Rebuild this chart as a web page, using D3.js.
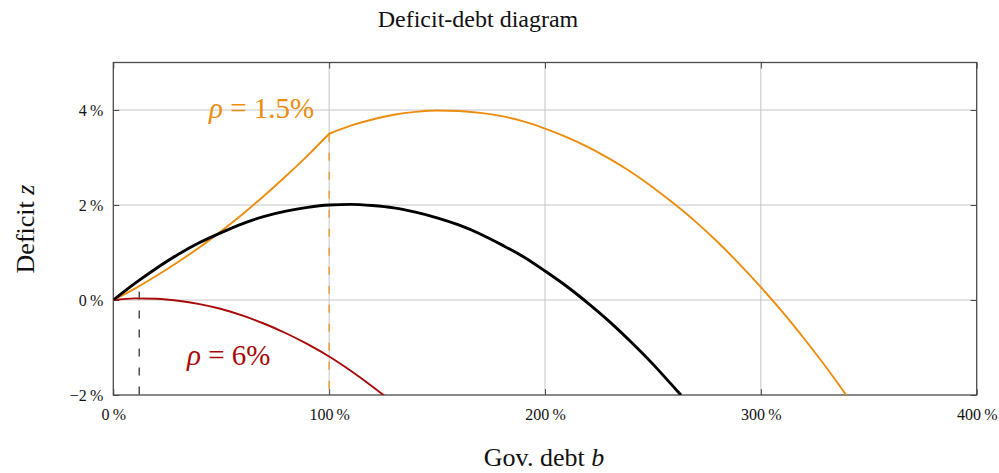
<!DOCTYPE html>
<html>
<head>
<meta charset="utf-8">
<script src="https://cdn.jsdelivr.net/npm/d3@7"></script>
<style>
  html, body { margin: 0; padding: 0; background: #fff; }
  svg { display: block; }
  text { font-family: "Liberation Serif", "DejaVu Serif", serif; fill: #111; }
</style>
</head>
<body>
<svg id="chart" width="999" height="473"></svg>
<script>
// Debt levels b (% of GDP) and deficits z (% of GDP)
const debtBase = [0, 10, 20, 30, 40, 50, 60, 70, 80, 90, 100, 110, 120, 130, 140, 150,
                  160, 170, 180, 190, 200, 210, 220, 230, 240, 250, 260, 263];
const deficitBase = [0, 0.35, 0.67, 0.96, 1.21, 1.42, 1.61, 1.76, 1.87, 1.95, 2.0, 2.014, 1.99,
                     1.94, 1.85, 1.73, 1.58, 1.39, 1.16, 0.91, 0.61, 0.29, -0.07, -0.46,
                     -0.89, -1.35, -1.85, -2.0];

// rho = 1.5 %: rises to the kink at b = 100 %, then bends over
const debtLowRhoA = [0, 10, 20, 30, 40, 50, 60, 70, 80, 90, 100];
const deficitLowRhoA = [0, 0.24, 0.51, 0.80, 1.11, 1.45, 1.81, 2.20, 2.61, 3.04, 3.5];
const debtLowRhoB = [100, 110, 120, 130, 140, 150, 160, 170, 180, 190, 200, 210, 220, 230,
                     240, 250, 260, 270, 280, 290, 300, 310, 320, 330, 340];
const deficitLowRhoB = [3.5, 3.67, 3.80, 3.90, 3.96, 3.99, 3.98, 3.94, 3.87, 3.76, 3.61, 3.43,
                        3.22, 2.97, 2.69, 2.37, 2.02, 1.64, 1.22, 0.76, 0.27, -0.25, -0.81,
                        -1.40, -2.03];

// rho = 6 %
const debtHighRho = [0, 10, 20, 30, 40, 50, 60, 70, 80, 90, 100, 110, 120, 126];
const deficitHighRho = [0, 0.034, 0.026, -0.015, -0.087, -0.19, -0.33, -0.50, -0.70, -0.93,
                        -1.19, -1.49, -1.82, -2.03];

// Axis ticks
const xTicks = [0, 100, 200, 300, 400];
const yTicks = [-2, 0, 2, 4];
const xGrid = [100, 200, 300];
const yGrid = [0, 2, 4];

// Reference markers: kink of the rho = 1.5 % curve and debt level under the rho = 6 % peak
const kinkDebt = 100, kinkDeficit = 3.5;
const peakDebt = 12, peakMarkTop = 0.18;

const orange = "#ee8c0e";
const darkRed = "#a80808";

const svg = d3.select("#chart");
const plotLeft = 113.3, plotRight = 976.7, plotTop = 62.5, plotBottom = 395;

const x = d3.scaleLinear().domain([0, 400]).range([plotLeft, plotRight]);
const y = d3.scaleLinear().domain([-2, 5]).range([plotBottom, plotTop]);

const pct = d => (d < 0 ? "\u2212" + Math.abs(d) : d) + "\u2009%";

svg.append("defs").append("clipPath").attr("id", "plotClip")
  .append("rect").attr("x", plotLeft).attr("y", plotTop)
  .attr("width", plotRight - plotLeft).attr("height", plotBottom - plotTop);

// Grid lines
const grid = svg.append("g").attr("stroke", "#c4c4c4").attr("stroke-width", 1);
grid.selectAll("line.gx").data(xGrid).join("line").attr("class", "gx")
  .attr("x1", d => x(d)).attr("x2", d => x(d))
  .attr("y1", plotTop).attr("y2", plotBottom);
grid.selectAll("line.gy").data(yGrid).join("line").attr("class", "gy")
  .attr("x1", plotLeft).attr("x2", plotRight)
  .attr("y1", d => y(d)).attr("y2", d => y(d));

// Axes with inward ticks
const tickLen = 6;
const axisColor = "#4a4a4a";
const xAxis = svg.append("g").attr("transform", `translate(0,${plotBottom})`)
  .call(d3.axisBottom(x).tickValues(xTicks).tickSize(-tickLen).tickPadding(tickLen + 8).tickFormat(pct));
const xAxisTop = svg.append("g").attr("transform", `translate(0,${plotTop})`)
  .call(d3.axisTop(x).tickValues(xTicks).tickSize(-tickLen).tickFormat(""));
const yAxis = svg.append("g").attr("transform", `translate(${plotLeft},0)`)
  .call(d3.axisLeft(y).tickValues(yTicks).tickSize(-tickLen).tickPadding(tickLen + 4).tickFormat(pct));
const yAxisRight = svg.append("g").attr("transform", `translate(${plotRight},0)`)
  .call(d3.axisRight(y).tickValues(yTicks).tickSize(-tickLen).tickFormat(""));

[xAxis, xAxisTop, yAxis, yAxisRight].forEach(g => {
  g.select(".domain").remove();
  g.selectAll(".tick line").attr("stroke", axisColor).attr("stroke-width", 1);
  g.selectAll(".tick text").attr("fill", "#111")
    .style("font-family", "'Liberation Serif', serif").style("font-size", "16px");
});

// Frame
svg.append("rect").attr("x", plotLeft).attr("y", plotTop)
  .attr("width", plotRight - plotLeft).attr("height", plotBottom - plotTop)
  .attr("fill", "none").attr("stroke", axisColor).attr("stroke-width", 1.3);

const plot = svg.append("g").attr("clip-path", "url(#plotClip)");

// Dashed reference lines
plot.append("line")
  .attr("x1", x(kinkDebt)).attr("x2", x(kinkDebt))
  .attr("y1", y(kinkDeficit)).attr("y2", y(-2))
  .attr("stroke", orange).attr("stroke-width", 1.2).attr("stroke-dasharray", "8,11");
plot.append("line")
  .attr("x1", x(peakDebt)).attr("x2", x(peakDebt))
  .attr("y1", y(peakMarkTop)).attr("y2", y(-2))
  .attr("stroke", "#222").attr("stroke-width", 1.2).attr("stroke-dasharray", "8,11");

const line = d3.line().x(d => x(d[0])).y(d => y(d[1])).curve(d3.curveMonotoneX);
const zip = (a, b) => a.map((v, i) => [v, b[i]]);

plot.append("path").attr("d", line(zip(debtHighRho, deficitHighRho)))
  .attr("fill", "none").attr("stroke", darkRed).attr("stroke-width", 1.9);

plot.append("path")
  .attr("d", line(zip(debtLowRhoA, deficitLowRhoA)) + line(zip(debtLowRhoB, deficitLowRhoB)))
  .attr("fill", "none").attr("stroke", orange).attr("stroke-width", 1.9)
  .attr("stroke-linejoin", "round").attr("stroke-linecap", "round");

plot.append("path").attr("d", line(zip(debtBase, deficitBase)))
  .attr("fill", "none").attr("stroke", "#000").attr("stroke-width", 2.9);

// Curve labels
const rhoLabel = (tx, ty, value, color) => {
  const t = svg.append("text").attr("x", tx).attr("y", ty)
    .style("font-size", "29px").style("fill", color);
  t.append("tspan").style("font-style", "italic").style("fill", color).text("\u03C1");
  t.append("tspan").style("fill", color).text(" = " + value + "%");
};
rhoLabel(209, 118, "1.5", orange);
rhoLabel(187, 365, "6", darkRed);

// Title and axis titles
svg.append("text").attr("x", 478).attr("y", 27).attr("text-anchor", "middle")
  .style("font-size", "24px").text("Deficit-debt diagram");

const xTitle = svg.append("text").attr("x", 544).attr("y", 466).attr("text-anchor", "middle")
  .style("font-size", "26px");
xTitle.append("tspan").text("Gov. debt ");
xTitle.append("tspan").style("font-style", "italic").text("b");

const yTitle = svg.append("text")
  .attr("transform", "translate(34,229) rotate(-90)").attr("text-anchor", "middle")
  .style("font-size", "26px");
yTitle.append("tspan").text("Deficit ");
yTitle.append("tspan").style("font-style", "italic").text("z");
</script>
</body>
</html>
